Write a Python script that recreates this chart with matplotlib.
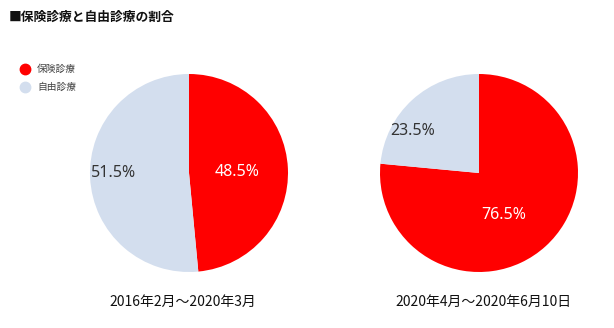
import matplotlib.pyplot as plt
from matplotlib.lines import Line2D

plt.rcParams['font.family'] = ['Noto Sans CJK JP', 'DejaVu Sans']

# 保険診療 / 自由診療 の割合 (%)
categories = ["保険診療", "自由診療"]
periods = ["2016年2月～2020年3月", "2020年4月～2020年6月10日"]
hoken = [48.5, 76.5]
jiyu = [51.5, 23.5]
colors = ["#ff0000", "#d3deee"]

W, H = 614, 328
fig = plt.figure(figsize=(W / 100, H / 100), dpi=100)

fig.text(9 / W, 1 - 17 / H, "■保険診療と自由診療の割合", fontsize=9.2,
         fontweight="bold", va="center", ha="left", color="#111111")

# 凡例
for i, (name, col) in enumerate(zip(categories, colors)):
    y = 1 - (69 + 18 * i) / H
    fig.add_artist(Line2D([25 / W], [y], marker="o", markersize=7.5, color=col,
                          transform=fig.transFigure))
    fig.text(37 / W, y, name, color="#444444", fontsize=7, ha="left", va="center")

centers = [(189, 173), (479, 173)]
radius = 99
# ラベル位置 (半径1基準)
label_pos = [[(0.49, 0.01), (-0.76, 0.0)], [(0.25, -0.42), (-0.67, 0.42)]]
label_colors = ["white", "#333333"]

for k in range(2):
    cx, cy = centers[k]
    ax = fig.add_axes([(cx - radius) / W, (H - cy - radius) / H,
                       2 * radius / W, 2 * radius / H])
    vals = [hoken[k], jiyu[k]]
    ax.pie(vals, colors=colors, startangle=90, counterclock=False,
           radius=1, wedgeprops=dict(linewidth=0))
    for v, (lx, ly), tc in zip(vals, label_pos[k], label_colors):
        ax.text(lx, ly, f"{v}%", color=tc, fontsize=11.5, ha="center",
                va="center", family=["Noto Sans", "DejaVu Sans"])
    ax.set_xlim(-1, 1)
    ax.set_ylim(-1, 1)
    ax.set_aspect("equal")
    ax.axis("off")

fig.text(183 / W, 1 - 302 / H, periods[0], fontsize=10, ha="center", va="center",
         color="#111111")
fig.text(484 / W, 1 - 302 / H, periods[1], fontsize=10, ha="center", va="center",
         color="#111111")

fig.savefig("out.png", dpi=100, facecolor="white")
